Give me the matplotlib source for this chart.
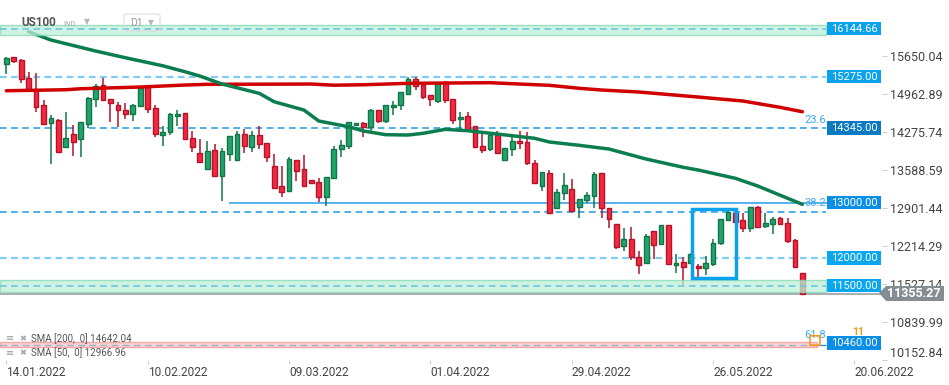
import matplotlib
matplotlib.use('Agg')
import matplotlib.pyplot as plt
from matplotlib.patches import Rectangle, Polygon, FancyBboxPatch
import matplotlib.transforms as mtransforms

plt.rcParams['font.family'] = ['Roboto', 'DejaVu Sans']
plt.rcParams['lines.scale_dashes'] = False

# ---------------- data ----------------
opens = [15500, 15626, 15572, 15247, 15058, 14758, 14433, 14487, 13999, 14234,
         14143, 14415, 14867, 15120, 14867, 14758, 14668, 14596, 14740, 15089,
         14704, 14216, 14270, 14559, 14614, 14162, 13890, 13612, 13945, 13485,
         13872, 13764, 14234, 13999, 14216, 14071, 13655, 13294, 13203, 13764,
         13601, 13402, 13366, 13095, 13438, 13963, 14017, 14397, 14433, 14361,
         14668, 14469, 14722, 14758, 14957, 15228, 15120, 14939, 14831, 15174,
         14867, 14505, 14559, 14379, 14017, 13963, 14216, 13764, 13963, 14107,
         14089, 13710, 13294, 13529, 12896, 13167, 13239, 12914, 13041, 13113,
         13529, 12896, 12606, 12209, 12335, 12010, 11901, 12480, 12245, 12588,
         11865, 11919, 11901, 11847, 11811, 11883, 12263, 12679, 12805, 12679,
         12534, 12914, 12570, 12606, 12715, 12625, 12317, 11720]
highs = [15623, 15641, 15596, 15355, 15342, 14849, 14577, 14502, 14637, 14402,
         14456, 14908, 15144, 15257, 14872, 14818, 14800, 14776, 15095, 15098,
         14758, 14379, 14619, 14668, 14619, 14294, 14149, 14113, 14053, 13981,
         14207, 14294, 14324, 14294, 14384, 14077, 13878, 13661, 13818, 13769,
         13854, 13407, 13449, 13471, 14017, 14125, 14456, 14438, 14456, 14686,
         14673, 14764, 14831, 14999, 15265, 15265, 15125, 14945, 15162, 15192,
         14872, 14632, 14632, 14384, 14234, 14221, 14288, 13986, 14234, 14288,
         14270, 13764, 13552, 13583, 13239, 13529, 13420, 13064, 13185, 13547,
         13543, 12910, 12612, 12534, 12552, 12118, 12426, 12485, 12594, 12594,
         12064, 12010, 12088, 11883, 12028, 12335, 12711, 12860, 12820, 12805,
         12919, 12932, 12805, 12733, 12733, 12715, 12335, 11725]
lows = [15319, 15518, 15167, 15026, 14643, 14406, 13702, 13901, 13986, 13847,
        13829, 14353, 14733, 14840, 14462, 14371, 14516, 14480, 14731, 14625,
        14191, 14028, 14227, 14389, 14134, 13919, 13719, 13603, 13465, 13033,
        13757, 13755, 13901, 13919, 13963, 13738, 13248, 13106, 13194, 13395,
        13285, 13339, 13004, 12943, 13429, 13829, 13974, 14388, 14191, 14299,
        14444, 14444, 14577, 14668, 14948, 15030, 14867, 14740, 14805, 14794,
        14415, 14324, 14297, 13990, 13890, 13927, 13881, 13755, 13836, 13963,
        13673, 13339, 13203, 12796, 12887, 13041, 12832, 12715, 12986, 12896,
        12715, 12534, 12154, 12118, 11955, 11702, 11892, 11979, 12236, 11874,
        11720, 11503, 11888, 11617, 11684, 11852, 12227, 12670, 12634, 12462,
        12462, 12543, 12534, 12426, 12588, 12263, 11820, 11346]
closes = [15608, 15554, 15228, 15035, 14722, 14415, 14523, 13914, 14162, 14100,
          14451, 14885, 15113, 14849, 14794, 14668, 14596, 14758, 15077, 14686,
          14234, 14270, 14596, 14596, 14143, 13999, 13728, 13927, 13474, 13927,
          14198, 14234, 14017, 14216, 14053, 13818, 13257, 13185, 13782, 13565,
          13294, 13348, 13095, 13456, 13963, 14035, 14451, 14433, 14361, 14668,
          14469, 14758, 14758, 14993, 15228, 15102, 14903, 14867, 15156, 14849,
          14487, 14541, 14306, 13999, 13945, 14216, 13890, 13981, 14107, 14071,
          13710, 13348, 13547, 12805, 13185, 13312, 12841, 13058, 13131, 13511,
          12896, 12697, 12190, 12335, 12010, 11865, 12389, 12227, 12588, 11883,
          11901, 11829, 12064, 11811, 11901, 12263, 12697, 12823, 12643, 12534,
          12914, 12552, 12625, 12697, 12606, 12299, 11829, 11355.27]

sma200_idx = [0, 8, 10, 18, 24, 27, 41, 44, 48, 54, 65, 69, 73, 77, 80, 85, 93, 99, 104, 107]
sma200_val = [15022, 15040, 15058, 15089, 15125, 15138, 15143, 15122, 15130, 15156,
              15167, 15143, 15120, 15066, 15035, 14999, 14908, 14836, 14722, 14642.04]
sma50_idx = [3, 6, 12, 16, 21, 24, 26, 29, 34, 36, 40, 42, 46, 48, 51, 54, 56, 59,
             62, 66, 71, 73, 77, 81, 86, 91, 93, 98, 101, 107]
sma50_val = [16089, 15939, 15740, 15619, 15474, 15366, 15288, 15143, 14975, 14823,
             14673, 14474, 14371, 14294, 14227, 14221, 14252, 14324, 14299, 14239,
             14162, 14095, 14035, 13968, 13787, 13637, 13588, 13438, 13299, 12966.96]

xtick_idx = [0, 19, 38, 57, 76, 95, 114]
xtick_lbl = ['14.01.2022', '10.02.2022', '09.03.2022', '01.04.2022',
             '29.04.2022', '26.05.2022', '20.06.2022']
ytick_val = [15650.04, 14962.89, 14275.74, 13588.59, 12901.44,
             12214.29, 11527.14, 10839.99, 10152.84]

level_val = [16144.66, 15275.00, 14345.00, 13000.00, 12000.00, 11500.00, 10460.00]
level_lbl = ['16144.66', '15275.00', '14345.00', '13000.00', '12000.00', '11500.00', '10460.00']
level_box = ['#0aa2ea', '#0aa2ea', '#0a7ac2', '#0b90e6', '#0aa6ee', '#0aa6ee', '#0b8ee6']

zone_green = [(16030, 16210), (11390, 11600)]
zone_red = (10382, 10472)
extra_dashed = 12823
fib_lbl = ['23.6', '38.2', '61.8']
fib_val = [14492, 12991, 10604]
current = 11355.27
highlight = (92.1, 98.1, 11630, 12880)
sma_legend = ['SMA [200,  0] 14642.04', 'SMA [50,  0] 12966.96']

# ---------------- figure ----------------
W, H = 949, 385
fig = plt.figure(figsize=(W / 100, H / 100), dpi=100)
ax = fig.add_axes([0, 25 / H, 882 / W, 360 / H])
ax.set_xlim(-0.85, 117.7)
ax.set_ylim(10152.84, 16662.7)
for s in ax.spines.values():
    s.set_visible(False)
trans = mtransforms.blended_transform_factory(ax.transAxes, ax.transData)
xr = 826 / 882
xpink = 817 / 882
upp = (16662.7 - 10152.84) / 360.0  # value units per pixel

# zones
for lo, hi in zone_green:
    ax.axhspan(lo, hi, xmin=0, xmax=xr, fc='#bff0da', ec='#7fd9b2', lw=1, alpha=0.75, zorder=6)
ax.axhspan(zone_red[0], zone_red[1], xmin=0, xmax=xpink, fc='#fbd0d0', ec='#f2a0a0', lw=1, alpha=0.9, zorder=6)

# level lines
light = {15275.00, 12000.00}
for v in level_val:
    if v == 13000.00:
        ax.plot([30, 110.2], [v, v], color='#55b2ee', lw=1.4, zorder=2)
        continue
    if v in (16144.66, 11500.00):
        ax.hlines(v, 0, xr, transform=trans, colors='#6cc7dd', lw=1.2,
                  linestyles=(0, (4.8, 3.2)), zorder=7)
    elif v == 10460.00:
        ax.hlines(v - 30, 0, xpink, transform=trans, colors='#9ab3c8', lw=1.0,
                  linestyles=(0, (4.8, 3.2)), zorder=7)
        ax.hlines(v - 30, xpink, xr, transform=trans, colors='#1a96e0', lw=1.0, zorder=7)
    elif v in light:
        ax.hlines(v, 0, xr, transform=trans, colors='#7ccdf4', lw=1.6,
                  linestyles=(0, (4.8, 3.2)), zorder=2)
    else:
        ax.hlines(v, 0, xr, transform=trans, colors='#1a9ae2', lw=1.1,
                  linestyles=(0, (4.8, 3.2)), zorder=2)
ax.hlines(extra_dashed, 0, xr, transform=trans, colors='#1a9ae2', lw=1.1,
          linestyles=(0, (4.8, 3.2)), zorder=2)

# current price line
ax.hlines(current, 0, 1, transform=trans, colors='#9aa0a4', lw=1.2, zorder=2)

# candles
up_fc, up_ec = '#22a46c', '#127548'
dn_fc, dn_ec = '#f5283f', '#b3142a'
bw = 0.64
for i in range(len(opens)):
    o, h, l, c = opens[i], highs[i], lows[i], closes[i]
    fc, ec = (up_fc, up_ec) if c >= o else (dn_fc, dn_ec)
    ax.vlines(i, l, h, colors=ec, lw=1.1, zorder=3)
    lo = min(o, c)
    hgt = max(abs(c - o), upp * 1.5)
    ax.add_patch(Rectangle((i - bw / 2, lo), bw, hgt, fc=fc, ec=ec, lw=1.0, zorder=3.5))

# SMA lines
ax.plot(sma200_idx, sma200_val, color='#d00000', lw=2.5, zorder=4, solid_capstyle='round')
ax.plot(sma50_idx, sma50_val, color='#0b7d4e', lw=2.5, zorder=4, solid_capstyle='round')

# highlight box
x0, x1, y0, y1 = highlight
ax.add_patch(Rectangle((x0, y0), x1 - x0, y1 - y0, fill=False, ec='#0aa2ea', lw=2.5, zorder=8))

# fib labels
for t, v in zip(fib_lbl, fib_val):
    ax.text(826 / 882, v, t, transform=trans, ha='right', va='center',
            color='#3aa8ee', fontsize=8, zorder=9)

# orange partially hidden marker near 10460
ax.text(852 / 882, 10660, '11', transform=trans, ha='left', va='center',
        color='#f39a1e', fontsize=7.5, fontweight='bold', zorder=9)
ax.add_patch(FancyBboxPatch((810 / 882, 10420), 10 / 882, 170, transform=trans,
                            boxstyle='round,pad=0,rounding_size=0.004', fill=False,
                            ec='#f39a1e', lw=1.2, zorder=9))

# level label boxes
bh = 13.5 * upp
for v, t, col in zip(level_val, level_lbl, level_box):
    ax.add_patch(Rectangle((827 / 882, v - bh / 2), 54 / 882, bh, transform=trans,
                           fc=col, ec='none', zorder=10, clip_on=False))
    ax.text(854 / 882, v, t, transform=trans, ha='center', va='center',
            color='white', fontsize=8, zorder=11)

# axes ticks
ax.yaxis.tick_right()
ax.set_yticks(ytick_val, [f'{v:.2f}' for v in ytick_val])
ax.tick_params(axis='y', length=3.6, width=0.8, color='#d0d0d0', pad=2.2,
               labelsize=9, labelcolor='#444444')
ylabels = ax.get_yticklabels()
ylabels[-1].set_verticalalignment('bottom')
ax.set_xticks(xtick_idx, xtick_lbl)
for lbl in ax.get_xticklabels():
    lbl.set_horizontalalignment('left')
ax.tick_params(axis='x', length=3, width=0.8, color='#d0d0d0', pad=1,
               labelsize=8.6, labelcolor='#444444')

# current price tag (figure level)
def fx(px):
    return px / W

def fy(py):
    return 1 - py / H

cy = (16662.7 - current) / upp
tag = Polygon([(fx(879), fy(cy - 0.5)), (fx(886), fy(cy - 7.5)), (fx(944), fy(cy - 7.5)),
               (fx(944), fy(cy + 7.5)), (fx(886), fy(cy + 7.5))],
              closed=True, transform=fig.transFigure, fc='#858d92', ec='none', zorder=20)
fig.add_artist(tag)
fig.text(fx(914), fy(cy), f'{current:.2f}', ha='center', va='center', color='white',
         fontsize=9, fontweight='bold', zorder=21)

# title area
fig.text(fx(21), fy(22.5), 'US100', ha='left', va='center', color='#555555',
         fontsize=8.5, fontweight='bold', zorder=21)
fig.text(fx(63), fy(24), 'IND', ha='left', va='center', color='#aaaaaa', fontsize=5.5, zorder=21)
fig.text(fx(84), fy(22), '▼', ha='left', va='center', color='#b5b5b5', fontsize=5.5,
         family='DejaVu Sans', zorder=21)
fig.add_artist(FancyBboxPatch((fx(124), fy(31)), fx(36), 17 / H, transform=fig.transFigure,
                              boxstyle='round,pad=0,rounding_size=0.004', fill=False,
                              ec='#dddddd', lw=0.8, zorder=21))
fig.text(fx(130), fy(23), 'D1', ha='left', va='center', color='#999999', fontsize=7.5, zorder=21)
fig.text(fx(148), fy(22.5), '▼', ha='left', va='center', color='#b5b5b5', fontsize=5.5,
         family='DejaVu Sans', zorder=21)

# SMA legend
for k, (t, yy) in enumerate(zip(sma_legend, [338.3, 352.7])):
    fig.text(fx(6), fy(yy), '≡', ha='left', va='center', color='#9a9a9a', fontsize=7,
             family='DejaVu Sans', zorder=21)
    fig.text(fx(19), fy(yy), '✖', ha='left', va='center', color='#a5a5a5', fontsize=6,
             family='DejaVu Sans', zorder=21)
    fig.text(fx(31), fy(yy), t, ha='left', va='center', color='#555555', fontsize=7, zorder=21)

fig.savefig('out.png', dpi=100)
